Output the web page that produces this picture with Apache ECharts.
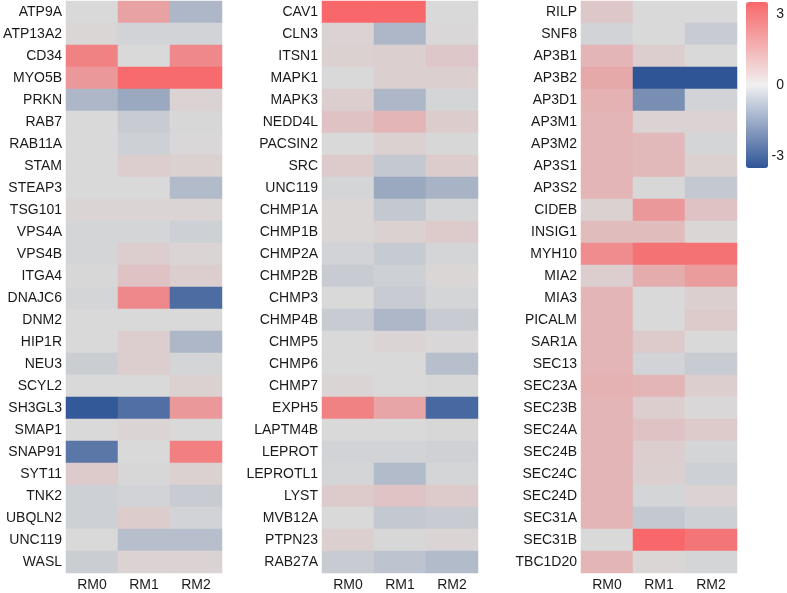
<!DOCTYPE html>
<html>
<head>
<meta charset="utf-8">
<script src="https://cdn.jsdelivr.net/npm/echarts@6/dist/echarts.min.js"></script>
<style>
  html, body { margin: 0; padding: 0; background: #fff; }
  #heat { width: 787px; height: 593px; }
</style>
</head>
<body>
<div id="heat"></div>
<script>
const columns = ["RM0", "RM1", "RM2"];
const legendTicks = [-3, 0, 3];

const genesLeft = ["ATP9A", "ATP13A2", "CD34", "MYO5B", "PRKN", "RAB7", "RAB11A", "STAM", "STEAP3", "TSG101", "VPS4A", "VPS4B", "ITGA4", "DNAJC6", "DNM2", "HIP1R", "NEU3", "SCYL2", "SH3GL3", "SMAP1", "SNAP91", "SYT11", "TNK2", "UBQLN2", "UNC119", "WASL"];
const valuesLeft = [
  [0, 1.7, -0.9], [0.1, -0.15, -0.15], [2.7, 0, 2.5], [2.0, 3.4, 3.4], [-0.9, -1.3, 0.2],
  [0, -0.35, -0.05], [0, -0.25, 0.05], [0, 0.35, 0.25], [0, 0, -0.8], [0.15, 0.15, 0.15],
  [-0.1, -0.1, -0.25], [-0.1, 0.35, 0.15], [-0.05, 0.7, 0.35], [-0.1, 2.5, -2.9], [0, 0, 0],
  [0, 0.35, -0.9], [-0.3, 0.35, -0.1], [0, 0, 0.25], [-3.4, -2.8, 2.0], [0, 0.15, 0],
  [-2.6, 0, 2.8], [0.45, -0.05, 0.25], [-0.25, -0.15, -0.35], [-0.25, 0.4, -0.15], [0, -0.7, -0.7],
  [-0.3, 0.2, 0.2]
];

const genesMid = ["CAV1", "CLN3", "ITSN1", "MAPK1", "MAPK3", "NEDD4L", "PACSIN2", "SRC", "UNC119", "CHMP1A", "CHMP1B", "CHMP2A", "CHMP2B", "CHMP3", "CHMP4B", "CHMP5", "CHMP6", "CHMP7", "EXPH5", "LAPTM4B", "LEPROT", "LEPROTL1", "LYST", "MVB12A", "PTPN23", "RAB27A"];
const valuesMid = [
  [3.5, 3.5, 0], [0.2, -0.9, 0.05], [0.25, 0.3, 0.55], [0, 0.3, 0.3], [0.35, -0.9, -0.1],
  [0.7, 1.1, 0.4], [0, 0.25, -0.05], [0.45, -0.45, 0.4], [-0.1, -1.3, -1.0], [0.1, -0.45, -0.1],
  [0.1, 0.25, 0.45], [-0.15, -0.4, -0.1], [-0.35, -0.25, 0.1], [0, -0.35, -0.1], [-0.35, -0.9, -0.35],
  [0, 0.15, 0.05], [0, 0, -0.7], [0.15, 0, -0.05], [2.7, 1.6, -3.0], [0, 0, -0.05],
  [-0.15, -0.15, -0.2], [-0.1, -0.8, -0.1], [0.45, 0.65, 0.45], [0, -0.45, -0.35], [0.3, -0.05, 0.15],
  [-0.35, -0.55, -0.8]
];

const genesRight = ["RILP", "SNF8", "AP3B1", "AP3B2", "AP3D1", "AP3M1", "AP3M2", "AP3S1", "AP3S2", "CIDEB", "INSIG1", "MYH10", "MIA2", "MIA3", "PICALM", "SAR1A", "SEC13", "SEC23A", "SEC23B", "SEC24A", "SEC24B", "SEC24C", "SEC24D", "SEC31A", "SEC31B", "TBC1D20"];
const valuesRight = [
  [0.55, 0, 0], [-0.15, 0, -0.35], [1.1, 0.35, 0], [1.5, -3.5, -3.5], [1.2, -2.0, -0.15],
  [1.1, 0.2, 0.2], [1.1, 1.0, -0.1], [1.1, 1.0, 0.25], [1.1, -0.05, -0.45], [0.25, 2.0, 0.7],
  [0.9, 0.9, 0.1], [2.4, 3.2, 3.2], [0.35, 1.4, 1.9], [1.1, 0, 0.3], [1.1, 0, 0.45],
  [1.1, 0.45, 0], [1.1, -0.15, -0.35], [1.2, 1.1, 0.35], [1.1, 0.35, 0.05], [1.1, 0.7, 0.45],
  [1.1, 0.35, -0.1], [1.1, 0.3, -0.25], [1.1, -0.1, 0.2], [1.1, -0.45, -0.25], [0, 3.5, 3.1],
  [1.1, 0.1, -0.1]
];

const panels = [
  { genes: genesLeft, values: valuesLeft, left: 66 },
  { genes: genesMid, values: valuesMid, left: 322 },
  { genes: genesRight, values: valuesRight, left: 581 }
];

const textColor = "#1a1a1a";
const font = "'Liberation Sans', Arial, sans-serif";

const toCells = (vals) => {
  const out = [];
  vals.forEach((row, i) => row.forEach((v, j) => out.push([j, i, v])));
  return out;
};

var chart = echarts.init(document.getElementById("heat"));

const grids = panels.map((p) => ({ left: p.left, top: 1, width: 156, height: 572 }));
// small grid used only to put the legend labels on a real value axis
grids.push({ left: 768, top: 2, width: 1, height: 166 });

const xAxes = panels.map((p, k) => ({
  type: "category",
  gridIndex: k,
  data: columns,
  axisLine: { show: false },
  axisTick: { show: false },
  splitLine: { show: false },
  axisLabel: { color: textColor, fontSize: 14, fontFamily: font, margin: 5 }
}));
xAxes.push({ type: "value", gridIndex: 3, show: false });

const yAxes = panels.map((p, k) => ({
  type: "category",
  gridIndex: k,
  data: p.genes,
  inverse: true,
  axisLine: { show: false },
  axisTick: { show: false },
  splitLine: { show: false },
  axisLabel: { color: textColor, fontSize: 14, fontFamily: font, margin: 4 }
}));
yAxes.push({
  type: "value",
  gridIndex: 3,
  position: "right",
  min: -3.5,
  max: 3.5,
  axisLine: { show: false },
  axisTick: { show: false },
  splitLine: { show: false },
  axisLabel: {
    customValues: legendTicks,
    color: textColor,
    fontSize: 14,
    fontFamily: font,
    margin: 15,
    align: "right"
  }
});

const series = panels.map((p, k) => ({
  type: "heatmap",
  xAxisIndex: k,
  yAxisIndex: k,
  data: toCells(p.values),
  emphasis: { disabled: true },
  itemStyle: { borderWidth: 0 }
}));

var option = {
  animation: false,
  tooltip: { show: false },
  grid: grids,
  xAxis: xAxes,
  yAxis: yAxes,
  visualMap: [
    {
      // colours for the cells
      type: "continuous",
      show: false,
      min: -3.5,
      max: 3.5,
      seriesIndex: [0, 1, 2],
      inRange: { color: ["#2f5597", "#d9d9d9", "#f8686b"] }
    },
    {
      // the colour bar on the right
      type: "continuous",
      min: -3.5,
      max: 3.5,
      seriesIndex: [],
      left: 746,
      top: 2,
      padding: 0,
      itemWidth: 22,
      itemHeight: 166,
      calculable: false,
      hoverLink: false,
      text: null,
      inRange: { color: ["#2f5597", "#f0f0f0", "#f8686b"] }
    }
  ],
  series: series
};

option && chart.setOption(option);
</script>
</body>
</html>
